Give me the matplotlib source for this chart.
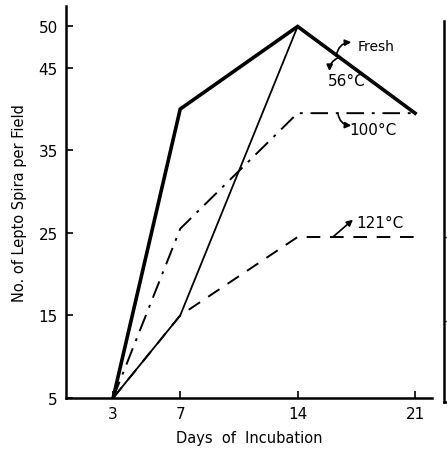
import matplotlib
matplotlib.use("Agg")
from matplotlib import pyplot as plt

days = [3, 7, 14, 21]
fresh = [5, 40, 50, 39.5]
c56 = [5, 15, 50, 39.5]
c100 = [5, 25.5, 39.5, 39.5]
c121 = [5, 15, 24.5, 24.5]
yticks = [5, 15, 25, 35, 45, 50]

fig = plt.figure(figsize=(4.47, 4.56), dpi=100)
ax = fig.add_axes([0.148, 0.125, 0.818, 0.86])

ax.plot(days, fresh, color='black', lw=2.6, solid_joinstyle='miter')
ax.plot(days[2:], fresh[2:], color='white', lw=0.7)
ax.plot(days, c56, color='black', lw=1.3)
ax.plot(days, c100, color='black', lw=1.4, linestyle=(0, (9, 4, 1.5, 4)))
ax.plot(days, c121, color='black', lw=1.4, linestyle=(0, (7, 5)))

arw = dict(arrowstyle='-|>', color='black', lw=1.2, mutation_scale=9,
           shrinkA=0, shrinkB=0)
ax.text(17.6, 47.6, 'Fresh', fontsize=10, va='center', ha='left')
ax.annotate('', xy=(17.2, 48.1), xytext=(16.3, 46.4),
            arrowprops=dict(arw, connectionstyle='arc3,rad=-0.4'))
ax.text(16.9, 43.5, '56°C', fontsize=11, ha='center', va='center')
ax.annotate('', xy=(15.9, 44.6), xytext=(16.4, 46.2),
            arrowprops=dict(arw, connectionstyle='arc3,rad=0.3'))
ax.text(18.5, 37.5, '100°C', fontsize=11, ha='center', va='center')
ax.annotate('', xy=(17.2, 38.0), xytext=(16.4, 39.5),
            arrowprops=dict(arw, connectionstyle='arc3,rad=0.4'))
ax.text(18.9, 26.2, '121°C', fontsize=11, ha='center', va='center')
ax.annotate('', xy=(17.3, 26.6), xytext=(16.1, 24.5),
            arrowprops=dict(arw, connectionstyle='arc3,rad=0'))

ax.set_xlim(0.2, 22)
ax.set_ylim(5, 52.5)
ax.set_xticks(days)
ax.set_yticks(yticks)
ax.tick_params(direction='in', length=5, width=1.2, labelsize=11, pad=6)
for s in ['top', 'right']:
    ax.spines[s].set_visible(False)
for s in ['left', 'bottom']:
    ax.spines[s].set_linewidth(1.8)
ax.set_xlabel('Days  of  Incubation', fontsize=10.5, labelpad=6)
ax.set_ylabel('No. of Lepto Spira per Field', fontsize=10.5, labelpad=8)

# edge of the neighbouring figure
ax2 = fig.add_axes([0.993, 0.116, 0.5, 0.835])
ax2.set_xticks([])
ax2.set_yticks([0.213, 0.433])
ax2.tick_params(direction='in', length=4, labelleft=False)
for s in ['top', 'right']:
    ax2.spines[s].set_visible(False)
for s in ['left', 'bottom']:
    ax2.spines[s].set_linewidth(1.8)

plt.savefig('out.png', dpi=100)
